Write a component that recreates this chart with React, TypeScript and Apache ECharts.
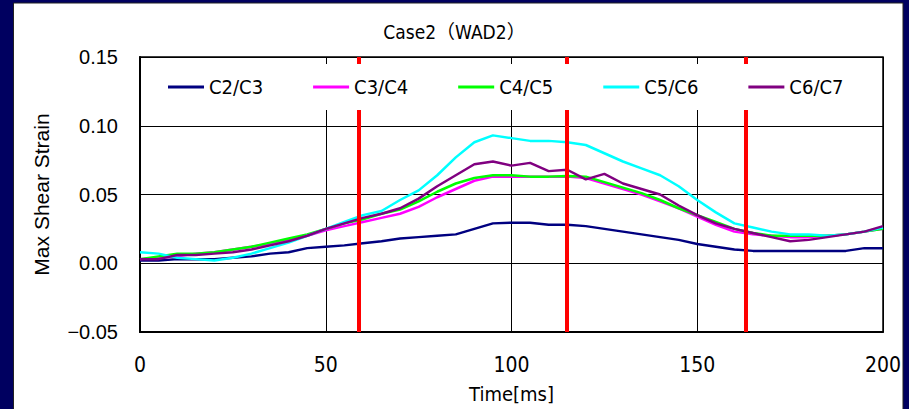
import React, { useEffect, useRef } from "react";
import * as echarts from "echarts";

const titleText = "Case2（WAD2）";
const xAxisName = "Time[ms]";
const yAxisName = "Max Shear Strain";

const time = [
  0, 5, 10, 15, 20, 25, 30, 35, 40, 45, 50, 55, 60, 65, 70, 75, 80, 85, 90, 95, 100,
  105, 110, 115, 120, 125, 130, 135, 140, 145, 150, 155, 160, 165, 170, 175, 180, 185, 190, 195, 200,
];

const seriesNames = ["C2/C3", "C3/C4", "C4/C5", "C5/C6", "C6/C7"];
const seriesColors = ["#000080", "#ff00ff", "#00ff00", "#00ffff", "#800080"];

const c2c3 = [
  0.002, 0.002, 0.003, 0.003, 0.003, 0.004, 0.005, 0.007, 0.008, 0.011, 0.012, 0.013, 0.0145, 0.016, 0.018, 0.019,
  0.02, 0.021, 0.025, 0.029, 0.0295, 0.0295, 0.028, 0.028, 0.027, 0.025, 0.023, 0.021, 0.019, 0.017, 0.014, 0.012,
  0.01, 0.009, 0.009, 0.009, 0.009, 0.009, 0.009, 0.011, 0.011,
];
const c3c4 = [
  0.003, 0.004, 0.005, 0.007, 0.008, 0.01, 0.012, 0.014, 0.017, 0.02, 0.024, 0.027, 0.03, 0.033, 0.036, 0.041,
  0.048, 0.054, 0.06, 0.063, 0.063, 0.063, 0.063, 0.063, 0.062, 0.058, 0.054, 0.05, 0.045, 0.04, 0.034, 0.028,
  0.023, 0.021, 0.02, 0.019, 0.019, 0.02, 0.021, 0.023, 0.025,
];
const c4c5 = [
  0.003, 0.005, 0.007, 0.007, 0.008, 0.01, 0.012, 0.015, 0.018, 0.021, 0.025, 0.029, 0.032, 0.036, 0.039, 0.045,
  0.052, 0.058, 0.062, 0.064, 0.064, 0.063, 0.063, 0.0635, 0.063, 0.059, 0.055, 0.051, 0.046, 0.04, 0.035, 0.03,
  0.025, 0.022, 0.02, 0.02, 0.02, 0.02, 0.021, 0.023, 0.025,
];
const c5c6 = [
  0.008, 0.007, 0.004, 0.003, 0.002, 0.004, 0.007, 0.011, 0.015, 0.02, 0.025, 0.03, 0.035, 0.038, 0.046, 0.053,
  0.064, 0.077, 0.088, 0.093, 0.091, 0.089, 0.089, 0.088, 0.086, 0.08, 0.074, 0.069, 0.064, 0.056, 0.046, 0.037,
  0.029, 0.026, 0.023, 0.021, 0.021, 0.02, 0.021, 0.023, 0.026,
];
const c6c7 = [
  0.003, 0.003, 0.006, 0.006, 0.007, 0.008, 0.01, 0.013, 0.016, 0.02, 0.025, 0.029, 0.033, 0.036, 0.04, 0.047,
  0.056, 0.064, 0.072, 0.074, 0.071, 0.073, 0.067, 0.068, 0.061, 0.065, 0.058, 0.054, 0.05, 0.042, 0.035, 0.029,
  0.025, 0.022, 0.019, 0.016, 0.017, 0.019, 0.021, 0.023, 0.027,
];
const seriesValues = [c2c3, c3c4, c4c5, c5c6, c6c7];

const eventTimes = [59, 115, 163];

const narrowFont = "'Liberation Sans Narrow', 'DejaVu Sans Condensed', 'Noto Sans CJK JP', sans-serif";
const armFont = "'Liberation Sans', Arial, sans-serif";

export default function App() {
  const ref = useRef<HTMLDivElement>(null);
  useEffect(() => {
    if (!ref.current) return;
    const chart = echarts.init(ref.current, undefined, { renderer: "svg" });
    const lineSeries = seriesNames.map((name, i) => ({
      name,
      type: "line",
      showSymbol: false,
      symbol: "none",
      data: time.map((t, j) => [t, seriesValues[i][j]]),
      lineStyle: { color: seriesColors[i], width: 2.5 },
      itemStyle: { color: seriesColors[i] },
      z: 3,
    }));
    chart.setOption({
      animation: false,
      backgroundColor: "#000060",
      graphic: [
        {
          type: "rect",
          z: -10,
          silent: true,
          shape: { x: 13.5, y: 3, width: 889.5, height: 420 },
          style: { fill: "#ffffff", stroke: "#222222", lineWidth: 1 },
        },
      ],
      title: {
        text: titleText,
        left: "center",
        top: 17,
        textStyle: { fontFamily: narrowFont, fontSize: 19, fontWeight: "normal", color: "#000" },
      },
      legend: {
        data: seriesNames,
        left: 142,
        top: 64,
        z: 20,
        icon: "rect",
        itemWidth: 36,
        itemHeight: 3,
        itemGap: 50,
        padding: [13, 20, 13, 26],
        backgroundColor: "#ffffff",
        textStyle: { fontFamily: narrowFont, fontSize: 20, color: "#000" },
      },
      grid: {
        left: 140,
        right: 26,
        top: 57,
        bottom: 76,
        show: true,
        backgroundColor: "#ffffff",
        borderColor: "#000",
        borderWidth: 1.5,
      },
      xAxis: {
        type: "value",
        min: 0,
        max: 200,
        interval: 50,
        name: xAxisName,
        nameLocation: "middle",
        nameGap: 52,
        nameTextStyle: { fontFamily: narrowFont, fontSize: 20, color: "#000" },
        axisLine: { show: true, onZero: false, lineStyle: { color: "#000", width: 2 } },
        axisTick: { show: false },
        axisLabel: { margin: 22, fontFamily: narrowFont, fontSize: 21, color: "#000" },
        splitLine: { show: true, lineStyle: { color: "#000", width: 1 } },
      },
      yAxis: {
        type: "value",
        min: -0.05,
        max: 0.15,
        interval: 0.05,
        name: yAxisName,
        nameLocation: "middle",
        nameGap: 88,
        nameTextStyle: { fontFamily: armFont, fontSize: 21, color: "#000" },
        axisLine: { show: true, onZero: false, lineStyle: { color: "#000", width: 2 } },
        axisTick: { show: false },
        axisLabel: {
          margin: 22,
          fontFamily: armFont,
          fontSize: 20,
          color: "#000",
          formatter: (v: number) => (v < -1e-9 ? "\u2212" : "") + Math.abs(v).toFixed(2),
        },
        splitLine: { show: true, lineStyle: { color: "#000", width: 1 } },
      },
      series: [
        ...lineSeries,
        {
          name: "events",
          type: "line",
          data: [],
          z: 10,
          markLine: {
            silent: true,
            symbol: ["none", "none"],
            label: { show: false },
            lineStyle: { color: "#ff0000", width: 4, type: "solid" },
            data: eventTimes.map((t) => ({ xAxis: t })),
          },
        },
      ],
    });
    return () => chart.dispose();
  }, []);
  return <div ref={ref} style={{ position: "absolute", left: 0, top: 0, width: 909, height: 409 }} />;
}
